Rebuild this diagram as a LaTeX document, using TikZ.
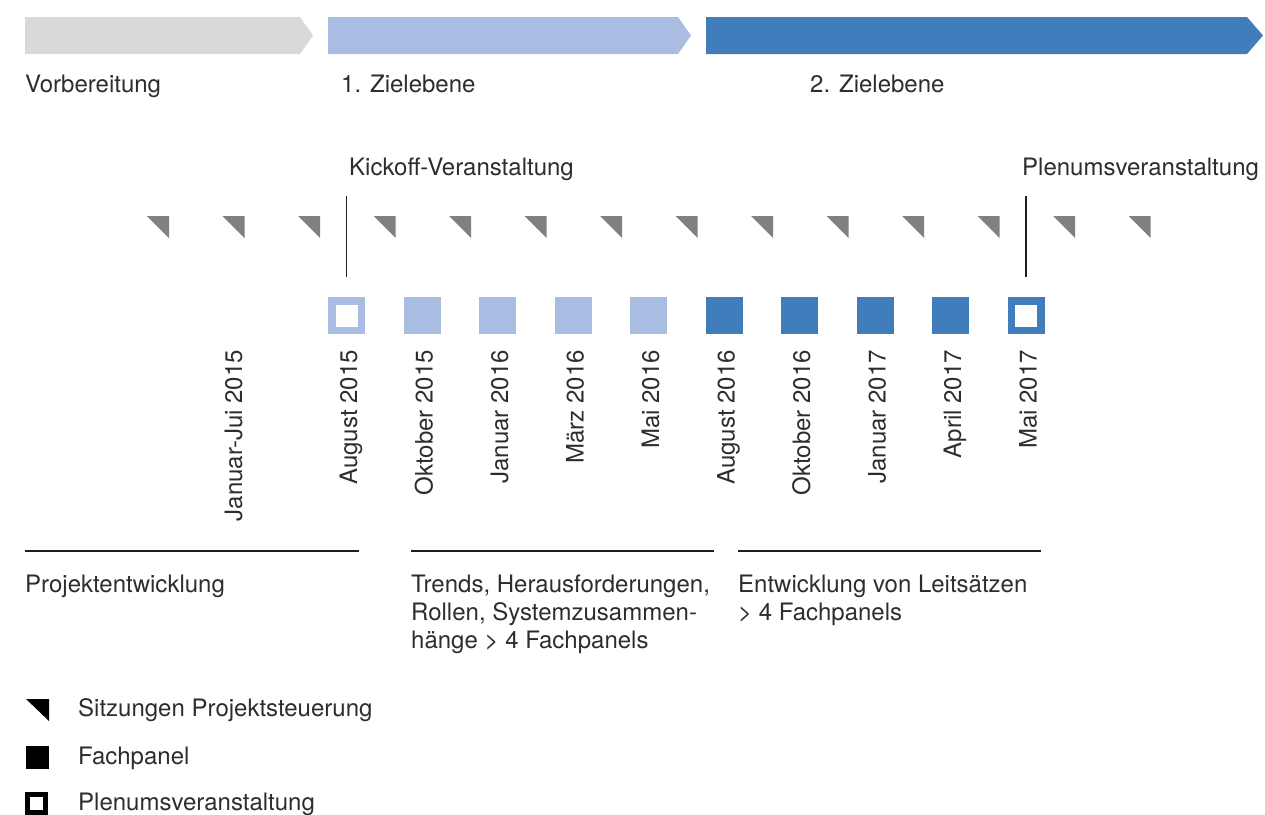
\documentclass[tikz,border=0pt]{standalone}
\usepackage{fontspec}
\setmainfont{TeX Gyre Heros}
\definecolor{phgray}{RGB}{217,217,217}
\definecolor{lblue}{RGB}{169,188,226}
\definecolor{dblue}{RGB}{65,124,189}
\definecolor{trigray}{RGB}{128,128,128}
\definecolor{txt}{RGB}{45,45,45}
\definecolor{rule}{RGB}{30,30,30}
\begin{document}
\begin{tikzpicture}[x=1pt,y=-1pt,
  lbl/.style={anchor=base west, inner sep=0pt, text=txt, font=\fontsize{24}{28}\selectfont},
  datelbl/.style={lbl, rotate=90, anchor=base east},
  panel/.style={fill=#1, draw=none, minimum size=37pt, inner sep=0pt},
  plenum/.style={fill=white, draw=#1, line width=7.5pt, minimum size=29.5pt, inner sep=0pt},
  sep/.style={draw=rule, line width=1.3pt},
  marker/.style={draw=rule, line width=1.3pt}]
\useasboundingbox (0,0) rectangle (1265,814);

% phase arrows
\fill[phgray] (25,17) -- (300,17) -- (313,35.5) -- (300,54) -- (25,54) -- cycle;
\fill[lblue] (328,17) -- (678,17) -- (691,35.5) -- (678,54) -- (328,54) -- cycle;
\fill[dblue] (706,17) -- (1247,17) -- (1263,35.5) -- (1247,54) -- (706,54) -- cycle;
\node[lbl] (ph0) at (25,92) {Vorbereitung};
\node[lbl] (ph1) at (341,92) {1. Zielebene};
\node[lbl] (ph2) at (810,92) {2. Zielebene};

% events
\node[lbl] (kick) at (349,175) {Kickoff-Veranstaltung};
\node[lbl] (plen) at (1022,175) {Plenumsveranstaltung};
\coordinate (k1) at (346.5,196); \coordinate (k2) at (346.5,277);
\coordinate (p1) at (1026,196); \coordinate (p2) at (1026,277);
\draw[marker] (k1) -- (k2);
\draw[marker] (p1) -- (p2);

% Sitzungen Projektsteuerung
\foreach \i in {0,...,13}
  \fill[trigray] ({147+75.5*\i},216) -- ++(22,0) -- ++(0,22) -- cycle;

% panels
\node[plenum=lblue] (sq0) at (346.5,315.5) {};
\foreach \j in {1,...,4}
  \node[panel=lblue] (sq\j) at ({346.5+75.5*\j},315.5) {};
\foreach \j in {5,...,8}
  \node[panel=dblue] (sq\j) at ({346.5+75.5*\j},315.5) {};
\node[plenum=dblue] (sq9) at ({346.5+75.5*9},315.5) {};

% dates
\node[datelbl] (d00) at (242,350) {Januar-Jui 2015};
\foreach \j/\t in {0/August 2015,1/Oktober 2015,2/Januar 2016,3/März 2016,4/Mai 2016,
                   5/August 2016,6/Oktober 2016,7/Januar 2017,8/April 2017,9/Mai 2017}
  \node[datelbl] (d\j) at ({357+75.5*\j},350) {\t};

% work packages
\draw[sep] (25,551) -- (359,551);
\draw[sep] (411,551) -- (714,551);
\draw[sep] (738,551) -- (1041,551);
\node[lbl] (w1) at (25,592) {Projektentwicklung};
\node[lbl, anchor=north west, align=left] (w2) at (411,574.7)
  {Trends, Herausforderungen,\\Rollen, Systemzusammen-\\hänge > 4 Fachpanels};
\node[lbl, anchor=north west, align=left] (w3) at (738,574.7)
  {Entwicklung von Leitsätzen\\> 4 Fachpanels};

% legend
\fill[black] (26,699) -- (49,699) -- (49,721) -- cycle;
\node[lbl] (l1) at (78,716) {Sitzungen Projektsteuerung};
\node[panel=black, minimum size=23pt] (lsq) at (37,757.5) {};
\node[lbl] (l2) at (78,764) {Fachpanel};
\node[plenum=black, line width=5pt, minimum size=18pt] (lpl) at (36.5,803) {};
\node[lbl] (l3) at (78,810) {Plenumsveranstaltung};
\end{tikzpicture}
\end{document}
